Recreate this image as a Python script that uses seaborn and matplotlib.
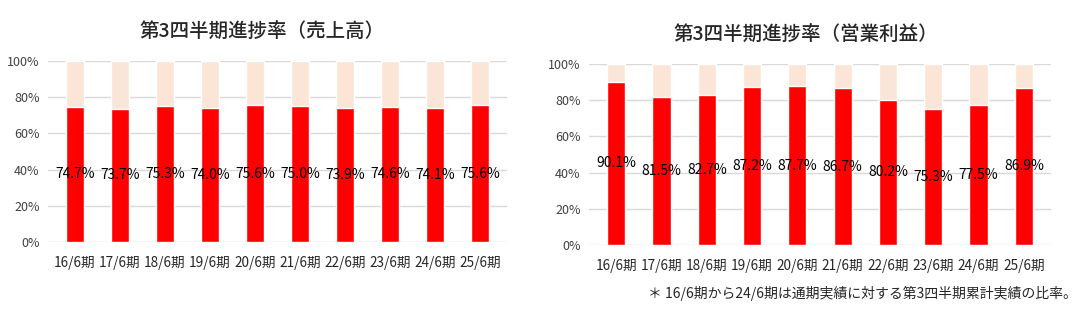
import matplotlib
matplotlib.use("Agg")
import matplotlib.pyplot as plt
import seaborn as sns
import pandas as pd

sns.set_theme(style="white")
plt.rcParams['font.family'] = ['Noto Sans CJK JP', 'DejaVu Sans']

periods = ["16/6期", "17/6期", "18/6期", "19/6期", "20/6期",
           "21/6期", "22/6期", "23/6期", "24/6期", "25/6期"]
sales_rate = [74.7, 73.7, 75.3, 74.0, 75.6, 75.0, 73.9, 74.6, 74.1, 75.6]
profit_rate = [90.1, 81.5, 82.7, 87.2, 87.7, 86.7, 80.2, 75.3, 77.5, 86.9]
full_year = [100] * len(periods)
yticks = [0, 20, 40, 60, 80, 100]
titles = ["第3四半期進捗率（売上高）", "第3四半期進捗率（営業利益）"]
footnote = "＊ 16/6期から24/6期は通期実績に対する第3四半期累計実績の比率。"

RED = "#FF0000"
PEACH = "#FBE5D6"
GRID = "#D9D9D9"
TXT = "#262626"

fig = plt.figure(figsize=(10.9, 3.12), dpi=100)
ax1 = fig.add_axes([48/1090, 1-242/312, 459/1090, 181/312])
ax2 = fig.add_axes([589/1090, 1-245/312, 462/1090, 181/312])

title_pos = [(262/1090, 1-32/312), (806/1090, 1-35/312)]

for ax, vals, title, tp in [(ax1, sales_rate, titles[0], title_pos[0]),
                            (ax2, profit_rate, titles[1], title_pos[1])]:
    df = pd.DataFrame({"period": periods, "rate": vals, "total": full_year})
    sns.barplot(data=df, x="period", y="total", color=PEACH, width=0.4,
                saturation=1, ax=ax, zorder=2)
    sns.barplot(data=df, x="period", y="rate", color=RED, width=0.4,
                saturation=1, ax=ax, zorder=3)
    ax.set_ylim(0, 100)
    ax.set_yticks(yticks)
    ax.set_yticklabels([f"{t}%" for t in yticks])
    ax.set_xlim(-0.6, len(periods) - 0.4)
    ax.grid(axis="y", color=GRID, linewidth=1, zorder=0)
    ax.set_axisbelow(True)
    for s in ax.spines.values():
        s.set_visible(False)
    ax.tick_params(axis="y", length=0, labelsize=9, colors="#404040", pad=6)
    ax.tick_params(axis="x", length=0, labelsize=9.8, colors=TXT, pad=10)
    ax.set_xlabel("")
    ax.set_ylabel("")
    for i, v in enumerate(vals):
        ax.text(i, v / 2, f"{v:.1f}%", ha="center", va="center",
                fontsize=10, color="black", zorder=5)
    fig.text(tp[0], tp[1], title, ha="center", va="center",
             fontsize=14, color=TXT, fontweight="medium")

fig.text(1077/1090, 1-293/312, footnote, ha="right", va="center",
         fontsize=10, color=TXT)

fig.savefig("out.png", dpi=100)
